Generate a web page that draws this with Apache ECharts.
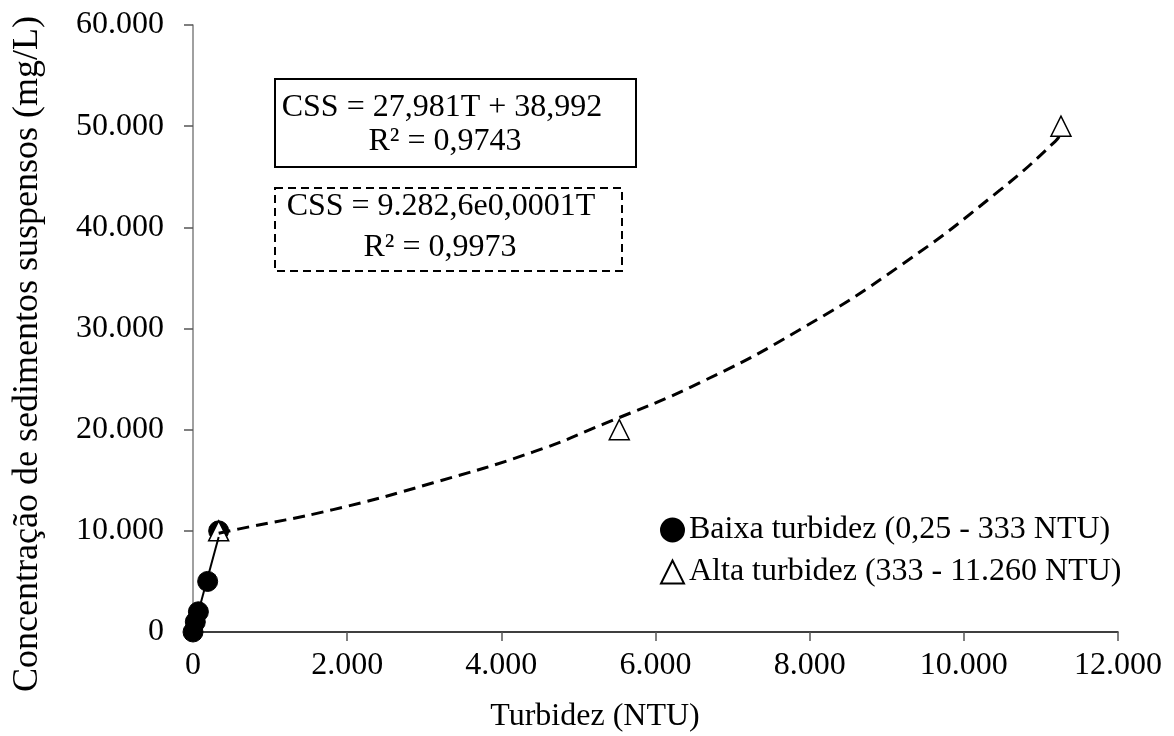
<!DOCTYPE html>
<html>
<head>
<meta charset="utf-8">
<script src="https://cdn.jsdelivr.net/npm/echarts@6/dist/echarts.min.js"></script>
<style>
  html, body { margin: 0; padding: 0; background: #fff; }
  #chart { width: 1174px; height: 736px; }
</style>
</head>
<body>
<div id="chart"></div>
<script>
// Sample points: low turbidity range (NTU vs mg/L)
const baixaT = [0.25, 30, 70, 190, 333];
const baixaCSS = [0, 1000, 2000, 5000, 10000];

// Sample points: high turbidity range
const altaT = [333, 5530, 11260];
const altaCSS = [10000, 20000, 50000];

// Linear trend line over the low range
const linT = [0.25, 333];
const linCSS = [50, 9400];

// Exponential trend line over the high range
const expT = [333, 585, 1818, 3117, 4415, 5323, 6578, 7876, 9174, 10472, 11186, 11260];
const expCSS = [9760, 10170, 12100, 14750, 17800, 20550, 24650, 29900, 36200, 43700, 48500, 49300];

// Axis ticks
const xTicks = [0, 2000, 4000, 6000, 8000, 10000, 12000];
const yTicks = [0, 10000, 20000, 30000, 40000, 50000, 60000];

// Legend and annotation texts
const serieNames = ['Baixa turbidez (0,25 - 333 NTU)', 'Alta turbidez (333 - 11.260 NTU)'];
const eqLinear = ['CSS = 27,981T + 38,992', 'R² = 0,9743'];
const eqExp = ['CSS = 9.282,6e0,0001T', 'R² = 0,9973'];
const xTitle = 'Turbidez (NTU)';
const yTitle = 'Concentração de sedimentos suspensos (mg/L)';

const FONT = "'Liberation Serif', 'Times New Roman', serif";
const FS = 32;

const zip = (a, b) => a.map((v, i) => [v, b[i]]);
const fmt = v => v.toLocaleString('de-DE');

const chart = echarts.init(document.getElementById('chart'), null, { renderer: 'canvas' });

const txt = (text, x, y, extra, size) => Object.assign({
  type: 'text',
  x: x, y: y,
  style: {
    text: text,
    font: (size || FS) + 'px ' + FONT,
    fill: '#000',
    align: 'center',
    verticalAlign: 'middle'
  }
}, extra || {});

chart.setOption({
  animation: false,
  backgroundColor: '#fff',
  textStyle: { fontFamily: FONT },
  grid: { left: 193, right: 56, top: 25, bottom: 104, containLabel: false },
  xAxis: {
    type: 'value',
    min: xTicks[0],
    max: xTicks[xTicks.length - 1],
    interval: 2000,
    axisLine: { show: true, onZero: false, lineStyle: { color: '#000', width: 1.5 } },
    axisTick: { show: true, inside: false, length: 9, lineStyle: { color: '#555', width: 1.5 } },
    axisLabel: { margin: 18, fontSize: FS, fontFamily: FONT, color: '#000', formatter: fmt },
    splitLine: { show: false }
  },
  yAxis: {
    type: 'value',
    min: yTicks[0],
    max: yTicks[yTicks.length - 1],
    interval: 10000,
    axisLine: { show: true, onZero: false, lineStyle: { color: '#808080', width: 1.5 } },
    axisTick: { show: true, inside: false, length: 9, lineStyle: { color: '#555', width: 1.5 } },
    axisLabel: { margin: 29, fontSize: FS, fontFamily: FONT, color: '#000', formatter: fmt },
    splitLine: { show: false }
  },
  legend: {
    data: serieNames,
    orient: 'vertical',
    left: 660,
    top: 514,
    itemWidth: 23,
    itemHeight: 23,
    itemGap: 10,
    padding: 0,
    textStyle: { fontSize: FS, fontFamily: FONT, color: '#000', lineHeight: 32 }
  },
  series: [
    {
      name: serieNames[0],
      type: 'scatter',
      data: zip(baixaT, baixaCSS),
      symbol: 'circle',
      symbolSize: 20,
      itemStyle: { color: '#000', borderColor: '#000', borderWidth: 1, opacity: 1 },
      z: 2
    },
    {
      name: serieNames[1],
      type: 'scatter',
      data: zip(altaT, altaCSS),
      symbol: 'triangle',
      symbolSize: 20,
      itemStyle: { color: '#fff', borderColor: '#000', borderWidth: 1.5, opacity: 1 },
      z: 3
    },
    {
      name: 'linear',
      type: 'line',
      data: zip(linT, linCSS),
      showSymbol: false,
      symbol: 'none',
      lineStyle: { color: '#000', width: 2 },
      silent: true,
      z: 4
    },
    {
      name: 'exponencial',
      type: 'line',
      data: zip(expT, expCSS),
      smooth: 0.5,
      showSymbol: false,
      symbol: 'none',
      lineStyle: { color: '#000', width: 3, type: [12, 7] },
      silent: true,
      z: 4
    }
  ],
  graphic: [
    {
      type: 'rect',
      shape: { x: 275, y: 79, width: 361, height: 88 },
      style: { fill: '#fff', stroke: '#000', lineWidth: 2 },
      z: 10
    },
    txt(eqLinear[0], 442, 108, { z: 11 }),
    txt(eqLinear[1], 445, 142, { z: 11 }),
    {
      type: 'rect',
      shape: { x: 275, y: 188, width: 347, height: 83 },
      style: { fill: '#fff', stroke: '#000', lineWidth: 2, lineDash: [8, 5] },
      z: 10
    },
    txt(eqExp[0], 441, 207, { z: 11 }),
    txt(eqExp[1], 440, 248, { z: 11 }),
    txt(xTitle, 595, 717, { z: 11 }),
    txt(yTitle, 28, 354, { rotation: Math.PI / 2, z: 11 }, 36)
  ]
});
</script>
</body>
</html>
